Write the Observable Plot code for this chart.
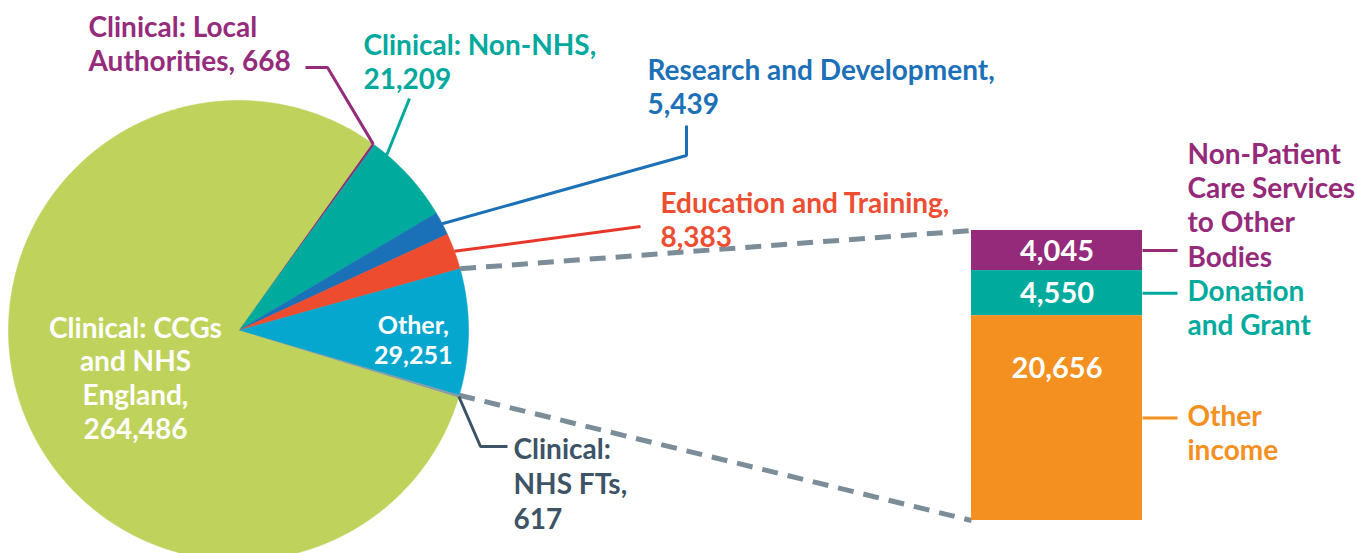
<!DOCTYPE html>
<html>
<head>
<meta charset="utf-8">
<script src="https://cdn.jsdelivr.net/npm/d3@7"></script>
<script src="https://cdn.jsdelivr.net/npm/@observablehq/plot@0.6"></script>
<style>
  html, body { margin: 0; padding: 0; background: #fff; }
  #chart svg { display: block; }
</style>
</head>
<body>
<div id="chart"></div>
<script>
// ---------------- DATA ----------------
// Pie: income sources (clockwise from the top-right, CCGs last)
const pieNames  = ["Clinical: Local Authorities", "Clinical: Non-NHS", "Research and Development",
                   "Education and Training", "Other", "Clinical: NHS FTs", "Clinical: CCGs and NHS England"];
const pieValues = [668, 21209, 5439, 8383, 29251, 617, 264486];
const pieLabelPrefix = ["Clinical: Local\nAuthorities, ", "Clinical: Non-NHS,\n", "Research and Development,\n",
                        "Education and Training,\n", "Other,\n", "Clinical:\nNHS FTs,\n", "Clinical: CCGs\nand NHS\nEngland,\n"];
const pieColors = ["#952B7B", "#00AA9D", "#1B71B8", "#EE4C2F", "#05A7CF", "#8A9AA6", "#BFD25B"];

// Bar: breakdown of "Other"
const otherNames  = ["Non-Patient Care Services to Other Bodies", "Donation and Grant", "Other income"];
const otherValues = [4045, 4550, 20656];
const otherLabels = ["Non-Patient\nCare Services\nto Other\nBodies", "Donation\nand Grant", "Other\nincome"];
const otherColors = ["#952A7B", "#00AB9E", "#F4901F"];

// ---------------- LAYOUT ----------------
const W = 1357, H = 553;
const CX = 238, CY = 330, R = 230, START_DEG = 35.5;
const BAR = {x0: 971, x1: 1142, y0: 230, y1: 520};
const FONT = "Lato, 'Open Sans', sans-serif";
const fmt = d3.format(",");

// callout layout for outside labels: index -> label anchor & leader elbows
const callouts = [
  {i: 0, tx: 88,  ty: 70,  frac: 0.5,  elbows: [[327, 67], [305, 67]], text: "#952B7B", line: "#952B7B"},
  {i: 1, tx: 363, ty: 88,  frac: 0.17, elbows: [[409, 98]],            text: "#00A99D", line: "#00A99D"},
  {i: 2, tx: 647, ty: 113, frac: 0.5,  elbows: [[686, 155], [686, 125]], text: "#1B70B7", line: "#1B70B7"},
  {i: 3, tx: 660, ty: 246, frac: 0.5,  elbows: [[640, 226]],           text: "#EE4D31", line: "#E8362B"},
  {i: 5, tx: 513, ty: 528, frac: 0.5,  elbows: [[480, 446], [507, 446]], text: "#3D5366", line: "#3D5366", lh: 1.25}
];

// ---------------- GEOMETRY (from data) ----------------
const a0 = START_DEG * Math.PI / 180;
const arcs = d3.pie().sort(null).value(d => d).startAngle(a0).endAngle(a0 + 2 * Math.PI)(pieValues);
const pt = (a, r) => ({x: CX + r * Math.sin(a), y: CY - r * Math.cos(a)});

const slicePolys = arcs.map((a, i) => {
  const n = Math.max(2, Math.ceil((a.endAngle - a.startAngle) / (Math.PI / 720)));
  const pts = [{x: CX, y: CY}];
  for (let j = 0; j <= n; j++) pts.push(pt(a.startAngle + (a.endAngle - a.startAngle) * j / n, R));
  pts.push({x: CX, y: CY});
  return pts;
});

const leaderPaths = callouts.map(c => {
  const a = arcs[c.i];
  const p = pt(a.startAngle + (a.endAngle - a.startAngle) * c.frac, R);
  return [p, ...c.elbows.map(([x, y]) => ({x, y}))];
});

const calloutText = callouts.map(c => ({
  x: c.tx, y: c.ty, fill: c.text, lh: c.lh || 1.2,
  text: pieLabelPrefix[c.i] + fmt(pieValues[c.i])
}));

// "Other" slice -> bar
const otherIdx = pieNames.indexOf("Other");
const oArc = arcs[otherIdx];
const oMid = (oArc.startAngle + oArc.endAngle) / 2;
const otherLabelPos = pt(oMid, R * 0.76);
const ccgIdx = pieNames.length - 1;

// stacked bar
const otherTotal = d3.sum(otherValues);
const barY = d3.scaleLinear().domain([0, otherTotal]).range([BAR.y0, BAR.y1]);
let cum = 0;
const barSegs = otherValues.map((v, i) => {
  const s = {y1: barY(cum), y2: barY(cum + v), fill: otherColors[i], value: v, label: otherLabels[i]};
  cum += v;
  s.mid = (s.y1 + s.y2) / 2;
  return s;
});
const connectors = [
  {...pt(oArc.startAngle, R), x2: BAR.x0, y2: BAR.y0},
  {...pt(oArc.endAngle, R),   x2: BAR.x0, y2: BAR.y1}
];

// ---------------- PLOT ----------------
const marks = [];
slicePolys.forEach((pts, i) => {
  marks.push(Plot.line(pts, {x: "x", y: "y", fill: pieColors[i], stroke: pieColors[i], strokeWidth: 0.6, curve: "linear"}));
});
// dashed connectors
marks.push(Plot.link(connectors, {x1: "x", y1: "y", x2: "x2", y2: "y2", stroke: "#7B8D99", strokeWidth: 5, strokeDasharray: "16,10"}));
// bar
marks.push(Plot.rect(barSegs, {x1: BAR.x0, x2: BAR.x1, y1: "y1", y2: "y2", fill: "fill"}));
// leader lines for pie callouts
leaderPaths.forEach((pts, k) => {
  marks.push(Plot.line(pts, {x: "x", y: "y", stroke: callouts[k].line, strokeWidth: 3, strokeLinecap: "butt", strokeLinejoin: "miter"}));
});
// bar leaders
marks.push(Plot.link(barSegs, {x1: BAR.x1, x2: BAR.x1 + 35, y1: "mid", y2: "mid", stroke: "fill", strokeWidth: 3}));

// callout texts
calloutText.forEach(t => {
  marks.push(Plot.text([t], {x: "x", y: "y", text: "text", fill: t.fill, textAnchor: "start", lineAnchor: "bottom",
    lineHeight: t.lh, fontSize: 28, fontWeight: 700, fontFamily: FONT}));
});
// Other label inside slice
marks.push(Plot.text([{...otherLabelPos, text: pieLabelPrefix[otherIdx] + fmt(pieValues[otherIdx])}],
  {x: "x", y: "y", text: "text", fill: "white", textAnchor: "middle", lineAnchor: "middle", dy: 8,
   lineHeight: 1.17, fontSize: 25, fontWeight: 700, fontFamily: FONT}));
// CCG label inside slice
marks.push(Plot.text([{x: 135, y: 438, text: pieLabelPrefix[ccgIdx] + fmt(pieValues[ccgIdx])}],
  {x: "x", y: "y", text: "text", fill: "white", textAnchor: "middle", lineAnchor: "bottom",
   lineHeight: 1.2, fontSize: 28, fontWeight: 700, fontFamily: FONT}));
// bar value labels
marks.push(Plot.text(barSegs, {x: (BAR.x0 + BAR.x1) / 2, y: d => d.y1 + Math.min((d.y2 - d.y1) / 2 + 10, 62),
  text: d => fmt(d.value), fill: "white", textAnchor: "middle", lineAnchor: "bottom",
  fontSize: 29, fontWeight: 700, fontFamily: FONT}));
// right labels
const rightY = [barSegs[0].mid + 16, barSegs[1].mid + 8 + 34, barSegs[2].mid + 8 + 34];
marks.push(Plot.text(barSegs.map((d, i) => ({...d, ly: rightY[i]})), {x: BAR.x1 + 45, y: "ly", text: "label", fill: "fill",
  textAnchor: "start", lineAnchor: "bottom", lineHeight: 1.22, fontSize: 28, fontWeight: 700, fontFamily: FONT}));

const chart = Plot.plot({
  width: W, height: H,
  marginTop: 0, marginRight: 0, marginBottom: 0, marginLeft: 0,
  x: {type: "linear", domain: [0, W], range: [0, W], axis: null},
  y: {type: "linear", domain: [0, H], range: [0, H], axis: null},
  color: {type: "identity"},
  style: {background: "white", overflow: "hidden"},
  marks
});
document.getElementById("chart").appendChild(chart);
</script>
</body>
</html>
